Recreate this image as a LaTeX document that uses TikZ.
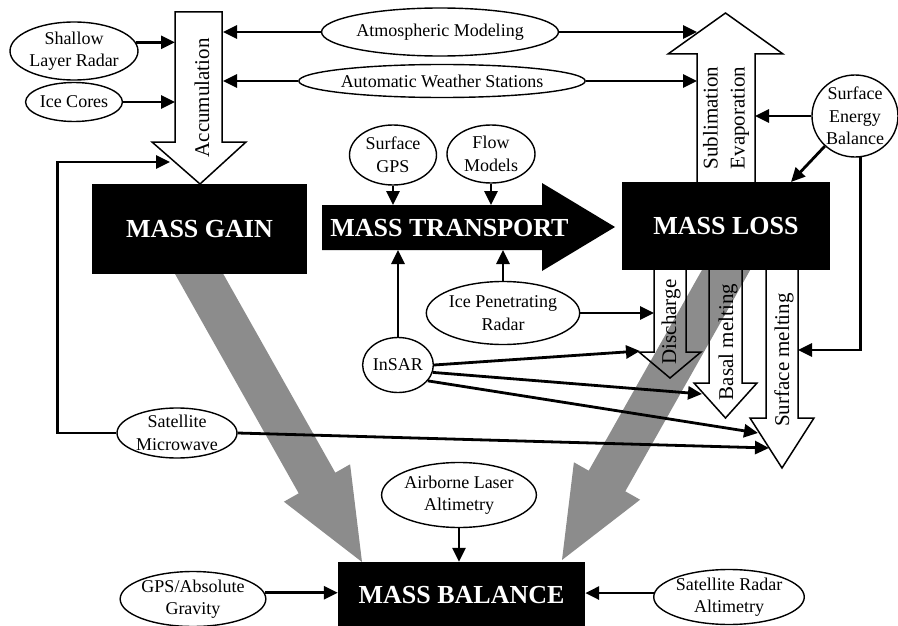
\documentclass[tikz,border=0pt]{standalone}
\usepackage{fontspec}
\setmainfont{Liberation Serif}
\usetikzlibrary{shapes.geometric,arrows.meta,calc}
\begin{document}
\begin{tikzpicture}[x=1pt,y=-1pt,
  lbl/.style={ellipse,draw,fill=white,line width=1.4pt,inner sep=0pt,align=center,font=\fontsize{18}{22.5}\selectfont},
  conn/.style={line width=2.8pt,-{Triangle[length=14pt,width=13pt]}},
  bigbox/.style={fill=black,text=white,inner sep=0pt,font=\fontsize{26}{30}\selectfont\bfseries},
  hollow/.style={draw,line width=1.5pt,line join=miter},
  rot/.style={rotate=90,font=\fontsize{21}{27}\selectfont,align=center,inner sep=0pt},
  grayarrow/.style={fill=black!45}]
\useasboundingbox (0,0) rectangle (898,626);

% grey wide arrows
\coordinate (gS1) at (180,240); \coordinate (gB1) at (317,483); \coordinate (gT1) at (362,562);
\fill[grayarrow] ($(gS1)+(18.3,-10.3)$) -- ($(gB1)+(18.3,-10.3)$) -- ($(gB1)+(33.1,-18.7)$) -- (gT1)
  -- ($(gB1)-(33.1,-18.7)$) -- ($(gB1)-(18.3,-10.3)$) -- ($(gS1)-(18.3,-10.3)$) -- cycle;
\coordinate (gS2) at (743,240); \coordinate (gB2) at (607,481); \coordinate (gT2) at (562,560);
\fill[grayarrow] ($(gS2)+(18.3,10.3)$) -- ($(gB2)+(18.3,10.3)$) -- ($(gB2)+(33.1,18.7)$) -- (gT2)
  -- ($(gB2)-(33.1,18.7)$) -- ($(gB2)-(18.3,10.3)$) -- ($(gS2)-(18.3,10.3)$) -- cycle;

% hollow arrows
\draw[hollow,fill=white] (175,12) -- (222,12) -- (222,142) -- (246,142) -- (200,184) -- (152,142) -- (175,142) -- cycle;
\node[rot] at (202,98) {Accumulation};
\coordinate (accL) at (175,100);
\coordinate (accR) at (223,50);
\coordinate (accH) at (170,162);

\draw[hollow,fill=white] (697,184) -- (697,54) -- (668,54) -- (725.5,13) -- (783,54) -- (755,54) -- (755,184) -- cycle;
\node[rot] at (726,118) {Sublimation\\Evaporation};
\coordinate (subL) at (697,50);
\coordinate (subR) at (755,118);

% boxes
\node[bigbox,minimum width=215pt,minimum height=90pt] (MG) at (199.5,229) {MASS GAIN};
\node[bigbox,minimum width=208pt,minimum height=88pt] (ML) at (726,226) {MASS LOSS};
\node[bigbox,minimum width=247pt,minimum height=66pt] (MB) at (461.5,595) {MASS BALANCE};
\fill (322,205) -- (542,205) -- (542,183) -- (615,227) -- (542,271) -- (542,250) -- (322,250) -- cycle;
\node[text=white,font=\fontsize{26}{30}\selectfont\bfseries,inner sep=0pt] (MT) at (449.5,228) {MASS TRANSPORT};
\coordinate (mtT) at (322,205);
\coordinate (mtB) at (322,250);
\coordinate (mlT) at (791,182);

% melting arrows
\draw[hollow] (654,270) -- (654,352) -- (639,352) -- (670,378) -- (701,352) -- (686,352) -- (686,270);
\draw[hollow] (709,270) -- (709,383) -- (694,383) -- (725.5,418) -- (757,383) -- (742,383) -- (742,270);
\draw[hollow] (766,270) -- (766,418) -- (750,418) -- (782,468) -- (814,418) -- (798,418) -- (798,270);
\node[rot] at (671,322) {Discharge};
\node[rot] at (728,342) {Basal melting};
\node[rot] at (784,360) {Surface melting};
\coordinate (dsL) at (654,313);
\coordinate (dsH) at (640,351);
\coordinate (bmH) at (702,394);
\coordinate (smH1) at (758,433);
\coordinate (smH2) at (769,448);
\coordinate (smR) at (798,350);

% ellipses
\node[lbl,minimum width=128pt,minimum height=58pt] (SLR) at (74,51) {Shallow\\Layer Radar};
\node[lbl,minimum width=95pt,minimum height=39pt] (IC) at (74,102) {Ice Cores};
\node[lbl,minimum width=190pt,minimum height=48pt] (AM) at (440,32) {Atmospheric Modeling};
\node[lbl,minimum width=261pt,minimum height=33pt] (AWS) at (442,81) {Automatic Weather Stations};
\node[lbl,minimum width=87pt,minimum height=60pt] (SGPS) at (393,155) {Surface\\GPS};
\node[lbl,minimum width=88pt,minimum height=58pt] (FM) at (491,154) {Flow\\Models};
\node[lbl,minimum width=86pt,minimum height=82pt] (SEB) at (855,116) {Surface\\Energy\\Balance};
\node[lbl,minimum width=148pt,minimum height=63pt] (IPR) at (503,313) {Ice Penetrating\\Radar};
\node[lbl,minimum width=67pt,minimum height=55pt] (InSAR) at (398,365) {InSAR};
\node[lbl,minimum width=120pt,minimum height=50pt] (SM) at (177,433) {Satellite\\Microwave};
\node[lbl,minimum width=133pt,minimum height=65pt] (AL) at (459,495) {Airborne Laser\\Altimetry};
\node[lbl,minimum width=135pt,minimum height=48pt] (GPS) at (193,599) {GPS/Absolute\\Gravity};
\node[lbl,minimum width=140pt,minimum height=50pt] (SRA) at (729,597) {Satellite Radar\\Altimetry};

% connectors
\draw[conn] (SLR.8) -- (SLR.8 -| accL);
\draw[conn] (IC.east) -- (IC.east -| accL);
\draw[conn] (AM.west) -- (AM.west -| accR);
\draw[conn] (AM.east) -- (AM.east -| subL);
\draw[conn] (AWS.west) -- (AWS.west -| accR);
\draw[conn] (AWS.east) -- (AWS.east -| subL);
\draw[conn] (SEB.west) -- (SEB.west -| subR);
\draw[conn] (SEB.225) -- (mlT);
\draw[conn] (SEB.-82) |- (smR);
\draw[conn] (SGPS.south) -- (SGPS.south |- mtT);
\draw[conn] (FM.south) -- (FM.south |- mtT);
\draw[conn] (InSAR.north) -- (InSAR.north |- mtB);
\draw[conn] (IPR.north) -- (IPR.north |- mtB);
\draw[conn] (IPR.east) -- (IPR.east -| dsL);
\draw[conn] (InSAR.east) -- (dsH);
\draw[conn] (InSAR.-12) -- (bmH);
\draw[conn] (InSAR.-28) -- (smH1);
\draw[conn] (SM.east) -- (smH2);
\draw[conn] (SM.west) -- ++(-59,0) |- (accH);
\draw[conn] (AL.south) -- (AL.south |- MB.north);
\draw[conn] (GPS.5) -- (GPS.5 -| MB.west);
\draw[conn] (SRA.177) -- (SRA.177 -| MB.east);
\end{tikzpicture}
\end{document}
